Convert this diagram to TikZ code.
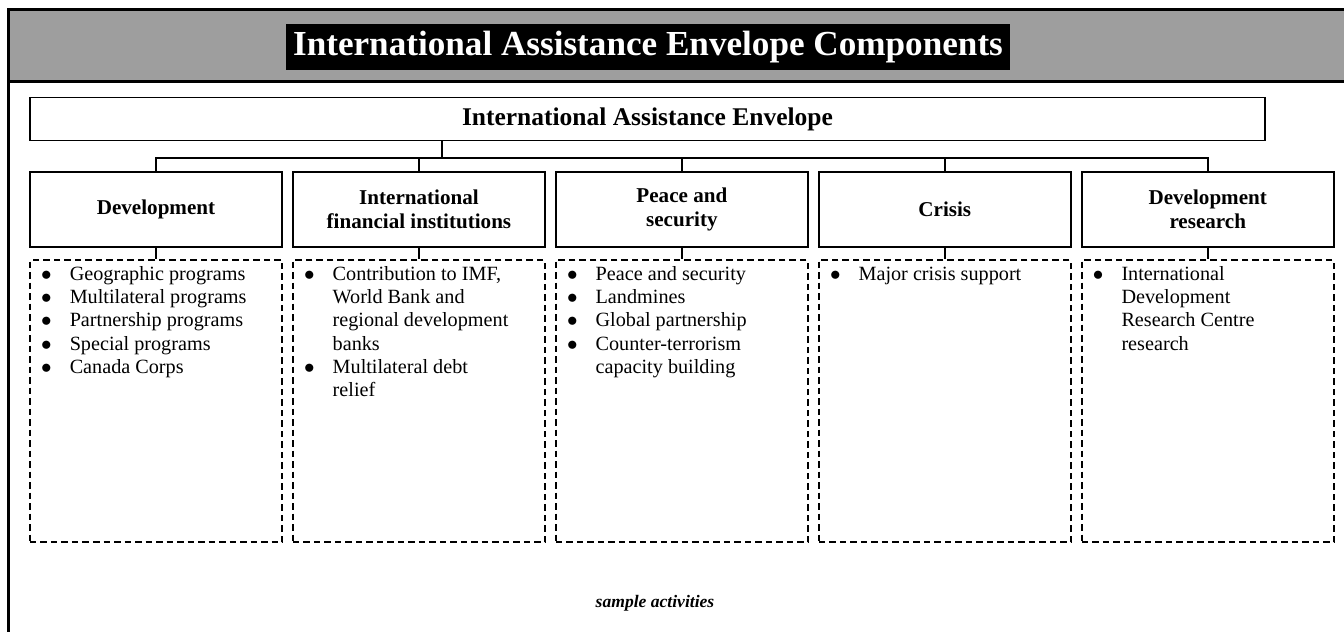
\documentclass[tikz,border=0pt]{standalone}
\usepackage{fontspec}
\setmainfont{Liberation Serif}
\usetikzlibrary{positioning}

\newcommand{\actfont}{\fontsize{11.5}{13.2}\selectfont}
\newcommand{\dotmark}{$\bullet$}
\newenvironment{actlist}{\begin{tabular}{@{}l@{\hspace{3.6mm}}l@{}}}{\end{tabular}}

\begin{document}
\begin{tikzpicture}[
    x=0.2mm, y=-0.2mm,
    unit/.style={rectangle, draw, line width=1.1pt, minimum width=50.4mm, minimum height=15mm, align=center, font=\fontsize{12}{13.5}\selectfont\bfseries},
    activity/.style={rectangle, draw, line width=1.3pt, dash pattern=on 1.3mm off 0.8mm, minimum width=50.4mm, minimum height=56.4mm},
    items/.style={anchor=north west, inner sep=0pt, font=\actfont},
    link/.style={line width=1.1pt}
]
    \useasboundingbox (0,0) rectangle (1344,632);

    % banner
    \draw[line width=0.6mm, fill=black!38] (8,10) rectangle (1380,82);
    \node[fill=black, text=white, font=\fontsize{20}{24}\selectfont\bfseries, inner xsep=1.4mm, minimum height=9.2mm] (heading) at (648,47) {International Assistance Envelope Components};
    \draw[line width=0.6mm] (8,82) -- (8,640);

    \node[unit, minimum width=247mm, minimum height=8.6mm, font=\fontsize{14.5}{16}\selectfont\bfseries] (envelope) at (647.5,119) {International Assistance Envelope};

    \node[unit] (dev) at (156,209.5) {Development};
    \node[unit, right=1.8mm of dev] (ifi) {International\\financial institutions};
    \node[unit, right=1.8mm of ifi] (peace) {Peace and\\security};
    \node[unit, right=1.8mm of peace] (crisis) {Crisis};
    \node[unit, right=1.8mm of crisis] (research) {Development\\research};

    \foreach \b in {dev,ifi,peace,crisis,research}
        \node[activity, below=2.2mm of \b] (\b-act) {};

    % sample activities
    \node[items] (dev-list) at ([xshift=2.4mm,yshift=-1mm]dev-act.north west) {\begin{actlist}
        \dotmark & Geographic programs\\
        \dotmark & Multilateral programs\\
        \dotmark & Partnership programs\\
        \dotmark & Special programs\\
        \dotmark & Canada Corps
    \end{actlist}};
    \node[items] (ifi-list) at ([xshift=2.4mm,yshift=-1mm]ifi-act.north west) {\begin{actlist}
        \dotmark & Contribution to IMF,\\
                 & World Bank and\\
                 & regional development\\
                 & banks\\
        \dotmark & Multilateral debt\\
                 & relief
    \end{actlist}};
    \node[items] (peace-list) at ([xshift=2.4mm,yshift=-1mm]peace-act.north west) {\begin{actlist}
        \dotmark & Peace and security\\
        \dotmark & Landmines\\
        \dotmark & Global partnership\\
        \dotmark & Counter-terrorism\\
                 & capacity building
    \end{actlist}};
    \node[items] (crisis-list) at ([xshift=2.4mm,yshift=-1mm]crisis-act.north west) {\begin{actlist}
        \dotmark & Major crisis support
    \end{actlist}};
    \node[items] (research-list) at ([xshift=2.4mm,yshift=-1mm]research-act.north west) {\begin{actlist}
        \dotmark & International\\
                 & Development\\
                 & Research Centre\\
                 & research
    \end{actlist}};

    \node[font=\fontsize{10}{12}\selectfont\bfseries\itshape] (sample) at (655,603) {sample activities};

    % connectors
    \coordinate (split) at (442,158);
    \draw[link] (envelope.south -| split) -- (split);
    \draw[link] (dev.north) -- (dev.north |- split) -- (research.north |- split) -- (research.north);
    \foreach \b in {ifi,peace,crisis}
        \draw[link] (\b.north |- split) -- (\b.north);
    \foreach \b in {dev,ifi,peace,crisis,research}
        \draw[link] (\b.south) -- (\b-act.north);
\end{tikzpicture}
\end{document}
